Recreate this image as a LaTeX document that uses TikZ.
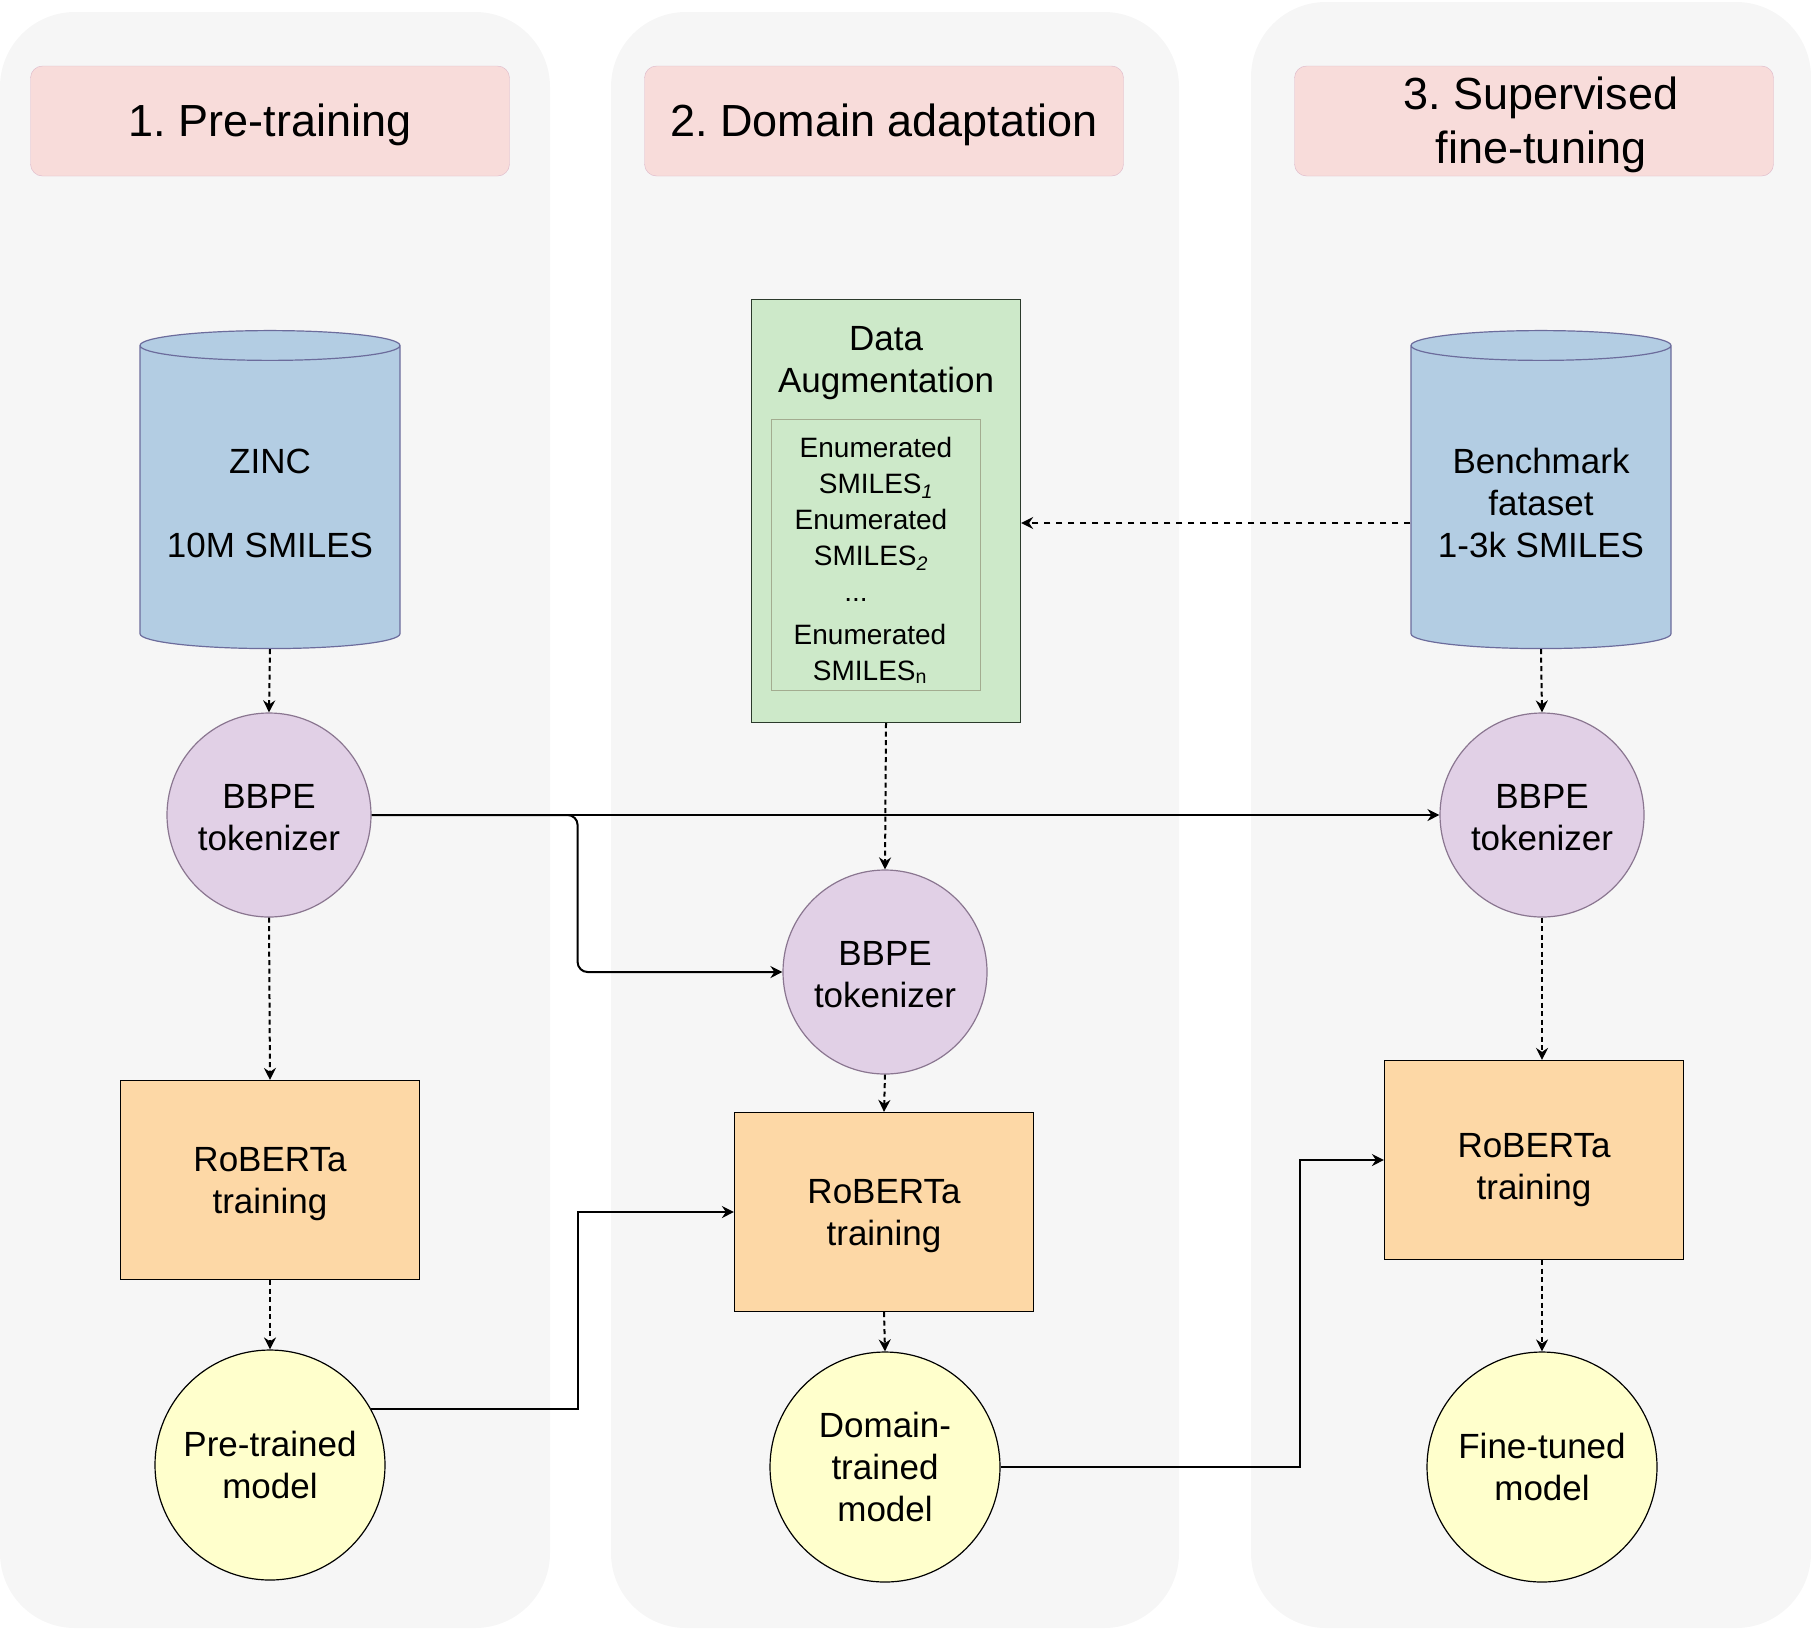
\documentclass[tikz,border=0pt]{standalone}
\usepackage{fontspec}
\setmainfont{Liberation Sans}
\frenchspacing
\usepackage{xcolor}
\definecolor{cLane}{HTML}{F6F6F6}
\definecolor{cHead}{HTML}{F8DCDA}
\definecolor{cHeadLine}{HTML}{DDB7C9}
\definecolor{cDB}{HTML}{B3CDE3}
\definecolor{cDBLine}{HTML}{6C6C9C}
\definecolor{cAug}{HTML}{CDE9C9}
\definecolor{cAugLine}{HTML}{2B3A2B}
\definecolor{cEnumLine}{HTML}{A3AC90}
\definecolor{cTok}{HTML}{E1D0E6}
\definecolor{cTokLine}{HTML}{8A7690}
\definecolor{cTrain}{HTML}{FDD8A6}
\definecolor{cModel}{HTML}{FFFFCC}
\usepackage{tikz}
\usetikzlibrary{positioning,arrows.meta,shapes.geometric,calc}
\newcommand\fHead{\fontsize{45}{54}\selectfont}
\newcommand\fBody{\fontsize{35}{42}\selectfont}
\newcommand\fSmall{\fontsize{28}{36}\selectfont}
\tikzset{
  lane/.style={fill=cLane,draw=none,rounded corners=75pt},
  node-head/.style={draw=cHeadLine,fill=cHead,rounded corners=12pt,
    minimum width=479pt,minimum height=110pt,align=center,font=\fHead},
  head-text/.style={align=center,font=\fHead,text height=40pt},
  node-db/.style={cylinder,shape border rotate=90,aspect=0.14,draw=cDBLine,
    fill=cDB,line width=1.2pt,minimum width=260pt,minimum height=318pt,
    align=center,font=\fBody,text height=118pt},
  node-aug/.style={draw=cAugLine,fill=cAug,line width=1.2pt,
    minimum width=269pt,minimum height=423pt},
  node-enum/.style={draw=cEnumLine,line width=1.2pt,minimum width=209pt,
    minimum height=271pt,align=center,font=\fSmall,text height=254pt},
  node-tok/.style={circle,draw=cTokLine,fill=cTok,line width=1.2pt,
    minimum size=204pt,inner sep=0pt,align=center,font=\fBody,
    text height=71pt},
  node-train/.style={draw=black,fill=cTrain,line width=1.2pt,
    minimum width=299pt,minimum height=199pt,align=center,font=\fBody,
    text height=75pt},
  node-model/.style={circle,draw=black,fill=cModel,line width=1.2pt,
    minimum size=230pt,inner sep=0pt,align=center,font=\fBody},
  arrow/.style={-{Stealth[length=12pt,width=12pt,inset=4pt]},line width=2pt},
  arrow-dash/.style={arrow,dash pattern=on 5pt off 3.5pt},
  arrow-dash-long/.style={arrow,dash pattern=on 6pt off 6pt},
}
\begin{document}
\begin{tikzpicture}[x=1pt,y=-1pt,font=\fBody]
  \useasboundingbox (0,0) rectangle (1811,1631);
  % lanes
  \fill[lane] (0,12) rectangle (550,1628);
  \fill[lane] (611,12) rectangle (1179,1628);
  \fill[lane] (1251,2) rectangle (1811,1628);
  % phase headers
  \node[node-head] (head1) at (270,121) {};
  \node[head-text] (head1Text) at (head1) {1. Pre-training};
  \node[node-head] (head2) at (884,121) {};
  \node[head-text] (head2Text) at (head2) {2. Domain adaptation};
  \node[node-head] (head3) at (1534,121) {};
  \node[head-text,text height=94pt] (head3Text) at (1541,121) {3. Supervised\\fine-tuning};
  % 1. pre-training
  \node[node-db] (zinc) at (270,499) {ZINC\\[42pt]10M SMILES};
  \node[node-tok] (tok1) at (269,815) {BBPE\\tokenizer};
  \node[node-train] (train1) at (270,1180) {RoBERTa\\training};
  \node[node-model] (model1) at (270,1465) {Pre-trained\\model};
  % 2. domain adaptation
  \node[node-aug] (aug) at (886,511) {};
  \node[align=center] (augTitle) at (886,363) {Data\\Augmentation};
  \node[node-enum] (enum) at (876,555) {Enumerated\\SMILES\textsubscript{\itshape 1}\\\hspace*{-10pt}Enumerated\\\hspace*{-10pt}SMILES\textsubscript{\itshape 2}\\\hspace*{-40pt}...\\[7pt]\hspace*{-12pt}Enumerated\\\hspace*{-12pt}SMILES\textsubscript{n}};
  \node[node-tok] (tok2) at (885,972) {BBPE\\tokenizer};
  \node[node-train] (train2) at (884,1212) {RoBERTa\\training};
  \node[node-model] (model2) at (885,1467) {Domain-\\trained\\model};
  % 3. supervised fine-tuning
  \node[node-db] (bench) at (1541,499) {Benchmark\\fataset\\1-3k SMILES};
  \node[node-tok] (tok3) at (1542,815) {BBPE\\tokenizer};
  \node[node-train,text height=87pt] (train3) at (1534,1160) {RoBERTa\\training};
  \node[node-model] (model3) at (1542,1467) {Fine-tuned\\model};
  % dashed flow
  \draw[arrow-dash] (zinc.south) -- (tok1.north);
  \draw[arrow-dash] (tok1.south) -- (train1.north);
  \draw[arrow-dash] (train1.south) -- (model1.north);
  \draw[arrow-dash] (aug.south) -- (tok2.north);
  \draw[arrow-dash] (tok2.south) -- (train2.north);
  \draw[arrow-dash] (train2.south) -- (model2.north);
  \draw[arrow-dash-long] ([yshift=-24pt]bench.west) -- ([yshift=-24pt]bench.west -| aug.east);
  \draw[arrow-dash] (bench.south) -- (tok3.north);
  \draw[arrow-dash] (tok3.south) -- (tok3.south |- train3.north);
  \draw[arrow-dash] (tok3.south |- train3.south) -- (model3.north);
  % solid hand-over
  \draw[arrow] (tok1.east) -- (tok3.west);
  \draw[arrow,rounded corners=10pt] (tok1.east) -- ++(206,0) |- (tok2.west);
  \draw[arrow] (model1.29) -- ++(207,0) |- (train2.west);
  \draw[arrow] (model2.east) -- ++(299,0) |- (train3.west);
\end{tikzpicture}
\end{document}
